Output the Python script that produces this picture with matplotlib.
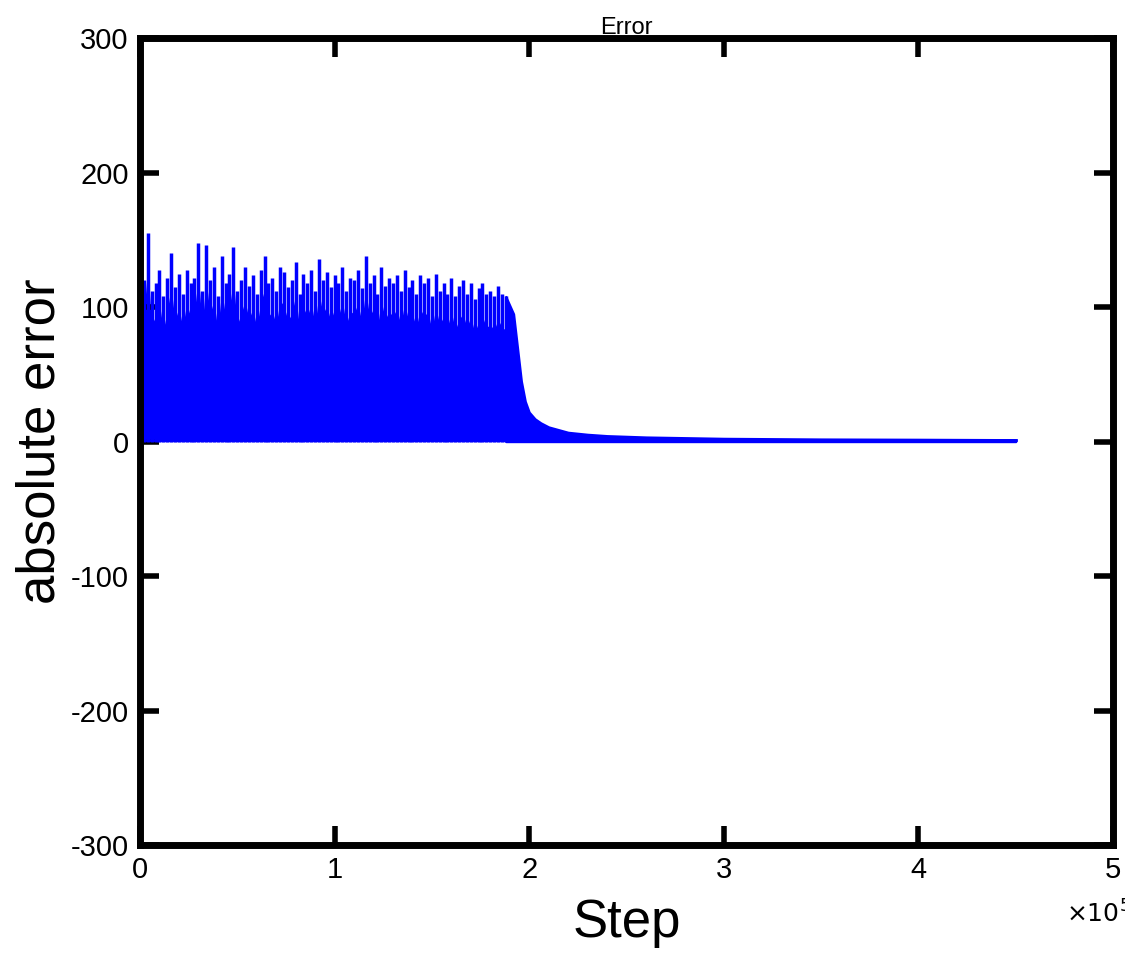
import numpy as np
import matplotlib.pyplot as plt

plt.rcParams['font.family'] = ['Liberation Sans', 'DejaVu Sans']
plt.rcParams['axes.unicode_minus'] = False

# peak |error| per 2000-step bin (0 .. 1.9e5)
peaks_early = [
    118, 120, 155, 112, 118, 128, 108, 122, 140, 115,
    125, 110, 128, 118, 122, 148, 112, 146, 120, 130,
    108, 138, 118, 125, 145, 112, 120, 130, 116, 124,
    110, 128, 138, 118, 122, 112, 130, 126, 115, 120,
    134, 110, 125, 118, 128, 112, 136, 120, 126, 115,
    124, 118, 130, 112, 122, 120, 128, 114, 138, 118,
    124, 110, 130, 116, 122, 118, 124, 112, 128, 115,
    120, 110, 124, 118, 122, 108, 125, 112, 118, 110,
    122, 108, 116, 120, 110, 118, 106, 114, 118, 110,
    112, 108, 116, 110, 108,
]
# decaying tail: (step, peak)
tail_steps = [1.88e5, 1.92e5, 1.94e5, 1.96e5, 1.98e5, 2.0e5, 2.03e5, 2.06e5, 2.1e5,
              2.15e5, 2.2e5, 2.3e5, 2.4e5, 2.6e5, 2.8e5, 3.0e5, 3.5e5, 4.0e5, 4.5e5]
tail_peaks = [108, 95, 70, 45, 30, 22, 17, 14, 11, 9, 7, 5.5, 4.5, 3.5, 3, 2.5, 2, 1.8, 1.5]

early_steps = np.arange(len(peaks_early)) * 2000

fig = plt.figure(figsize=(11.25, 9.73), dpi=100)
ax = fig.add_axes([0.1244, 0.1316, 0.865, 0.829])

ax.vlines(early_steps, 0, peaks_early, color='#0000ff', lw=2.5)
ax.fill_between(early_steps, 0, np.array(peaks_early) - 25, color='#0000ff', lw=0)
ax.fill_between(tail_steps, 0, tail_peaks, color='#0000ff', lw=1.5)
ax.plot([0, 4.5e5], [1, 1], color='#0000ff', lw=2)

ax.set_xlim(0, 5e5)
ax.set_ylim(-300, 300)
ax.set_xticks(np.arange(0, 6) * 1e5)
ax.set_xticklabels([str(i) for i in range(6)])
ax.set_yticks(np.arange(-300, 301, 100))
ax.tick_params(direction='in', length=14, width=4, labelsize=21,
               top=True, right=True, pad=8)
for s in ax.spines.values():
    s.set_linewidth(5)

ax.set_title('Error', fontsize=17, pad=3)
ax.set_ylabel('absolute error', fontsize=38, labelpad=4)
ax.set_xlabel('Step', fontsize=38, labelpad=10)
ax.text(0.985, -0.085, r'$\times 10^5$', transform=ax.transAxes,
        fontsize=18, ha='center', va='center')

fig.savefig('out.png', dpi=100)
